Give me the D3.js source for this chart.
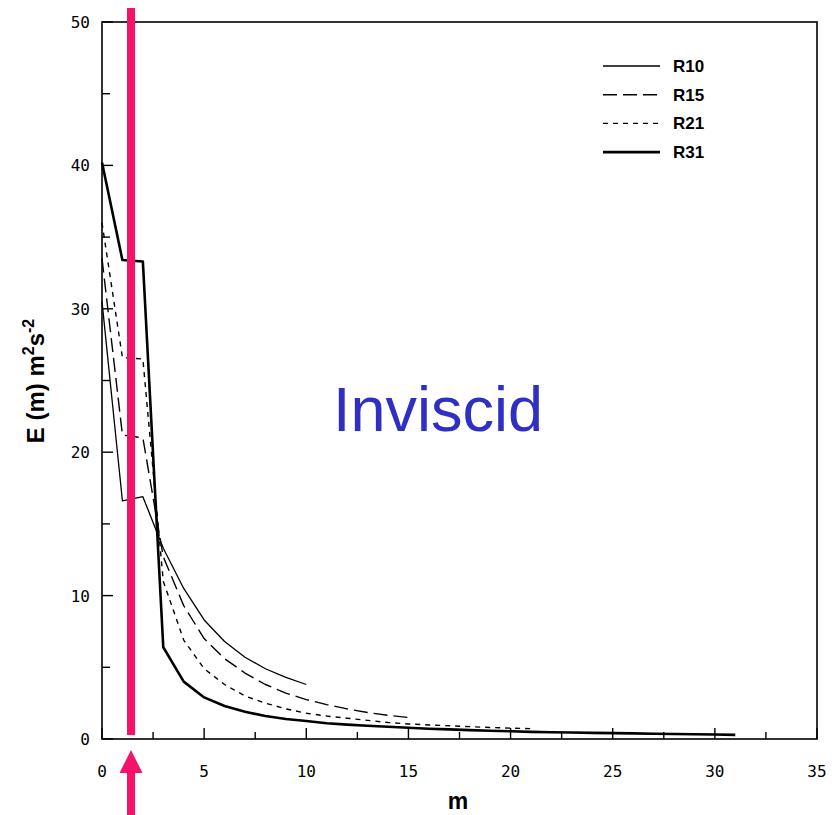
<!DOCTYPE html>
<html>
<head>
<meta charset="utf-8">
<script src="https://cdn.jsdelivr.net/npm/d3@7"></script>
<style>
  body { margin: 0; background: #fff; }
  text { fill: #000; }
</style>
</head>
<body>
<div id="chart"></div>
<script>
  // wavenumber energy spectra, E(m) in m^2 s^-2
  var R10 = [30.5, 16.6, 16.9, 13.3, 10.5, 8.3, 6.8, 5.7, 4.9, 4.3, 3.8];
  var R15 = [33.5, 21.2, 21.0, 12.7, 9.3, 7.0, 5.6, 4.6, 3.8, 3.2, 2.75, 2.4, 2.1, 1.85, 1.65, 1.5];
  var R21 = [36.0, 26.6, 26.5, 11.0, 6.9, 4.9, 3.8, 3.0, 2.5, 2.1, 1.8, 1.6, 1.45, 1.3, 1.15, 1.05,
             0.98, 0.92, 0.86, 0.8, 0.76, 0.72];
  var R31 = [40.2, 33.4, 33.3, 6.4, 4.0, 2.9, 2.3, 1.9, 1.6, 1.4, 1.25, 1.1, 1.0, 0.92, 0.85, 0.78,
             0.72, 0.67, 0.62, 0.58, 0.54, 0.5, 0.47, 0.45, 0.43, 0.41, 0.39, 0.37, 0.35, 0.33, 0.31, 0.29];

  var seriesNames = ["R10", "R15", "R21", "R31"];
  var xTicks = [0, 5, 10, 15, 20, 25, 30, 35];
  var yTicks = [0, 10, 20, 30, 40, 50];

  var styles = {
    R10: { w: 1.3, dash: null },
    R15: { w: 1.4, dash: "14,6" },
    R21: { w: 1.4, dash: "5,5" },
    R31: { w: 2.6, dash: null }
  };

  var width = 836, height = 815;
  var svg = d3.select("#chart").append("svg")
    .attr("width", width)
    .attr("height", height);

  var x = d3.scaleLinear().domain([0, 35]).range([102, 817]);
  var y = d3.scaleLinear().domain([0, 50]).range([739, 22]);

  // frame
  svg.append("rect")
    .attr("x", x(0)).attr("y", y(50))
    .attr("width", x(35) - x(0)).attr("height", y(0) - y(50))
    .attr("fill", "none").attr("stroke", "#000").attr("stroke-width", 1.6);

  // inward ticks
  svg.append("g").selectAll("line")
    .data(d3.range(0, 35.1, 2.5))
    .enter().append("line")
    .attr("x1", function(d) { return x(d); })
    .attr("x2", function(d) { return x(d); })
    .attr("y1", y(0))
    .attr("y2", function(d) { return y(0) - (d % 5 === 0 ? 11 : 7); })
    .attr("stroke", "#000").attr("stroke-width", 1.4);

  svg.append("g").selectAll("line")
    .data(d3.range(0, 50.1, 5))
    .enter().append("line")
    .attr("y1", function(d) { return y(d); })
    .attr("y2", function(d) { return y(d); })
    .attr("x1", x(0))
    .attr("x2", function(d) { return x(0) + (d % 10 === 0 ? 11 : 8); })
    .attr("stroke", "#000").attr("stroke-width", 1.4);

  // tick labels
  svg.append("g").selectAll("text")
    .data(xTicks)
    .enter().append("text")
    .attr("x", function(d) { return x(d); })
    .attr("y", 777)
    .attr("text-anchor", "middle")
    .style("font", "16px 'DejaVu Sans Mono', monospace")
    .text(function(d) { return d; });

  svg.append("g").selectAll("text")
    .data(yTicks)
    .enter().append("text")
    .attr("x", 90)
    .attr("y", function(d) { return y(d) + 6; })
    .attr("text-anchor", "end")
    .style("font", "16px 'DejaVu Sans Mono', monospace")
    .text(function(d) { return d; });

  // axis titles
  svg.append("text")
    .attr("x", 458).attr("y", 809)
    .attr("text-anchor", "middle")
    .style("font", "bold 23px 'Liberation Sans', Arial, sans-serif")
    .text("m");

  var yl = svg.append("text")
    .attr("transform", "translate(44,381) rotate(-90)")
    .attr("text-anchor", "middle")
    .style("font", "bold 24px 'Liberation Sans', Arial, sans-serif");
  yl.append("tspan").text("E (m) m");
  yl.append("tspan").attr("dy", -10).style("font-size", "16px").text("2");
  yl.append("tspan").attr("dy", 10).text("s");
  yl.append("tspan").attr("dy", -10).style("font-size", "16px").text("-2");

  // curves
  var line = d3.line()
    .x(function(d, i) { return x(i); })
    .y(function(d) { return y(d); });

  var data = { R10: R10, R15: R15, R21: R21, R31: R31 };

  seriesNames.forEach(function(name) {
    svg.append("path")
      .datum(data[name])
      .attr("d", line)
      .attr("fill", "none")
      .attr("stroke", "#000")
      .attr("stroke-width", styles[name].w)
      .attr("stroke-dasharray", styles[name].dash)
      .attr("stroke-linejoin", "round");
  });

  // legend
  var legend = svg.append("g").selectAll("g")
    .data(seriesNames)
    .enter().append("g")
    .attr("transform", function(d, i) { return "translate(0," + (66 + i * 28.7) + ")"; });

  legend.append("line")
    .attr("x1", 603).attr("x2", 660)
    .attr("stroke", "#000")
    .attr("stroke-width", function(d) { return styles[d].w; })
    .attr("stroke-dasharray", function(d) { return styles[d].dash; });

  legend.append("text")
    .attr("x", 673).attr("y", 6)
    .style("font", "bold 17px 'Liberation Sans', Arial, sans-serif")
    .text(function(d) { return d; });

  // annotation
  svg.append("text")
    .attr("x", 333).attr("y", 431)
    .style("font", "63px 'Liberation Sans', Arial, sans-serif")
    .style("fill", "#2f2fc4")
    .text("Inviscid");

  // pink marker bar and arrow
  svg.append("rect")
    .attr("x", 127).attr("y", 8)
    .attr("width", 8).attr("height", 727)
    .attr("fill", "#f5136a");

  svg.append("rect")
    .attr("x", 127).attr("y", 770)
    .attr("width", 8).attr("height", 45)
    .attr("fill", "#f5136a");

  svg.append("path")
    .attr("d", "M131,750 L142.5,773 L119.5,773 Z")
    .attr("fill", "#f5136a");
</script>
</body>
</html>
